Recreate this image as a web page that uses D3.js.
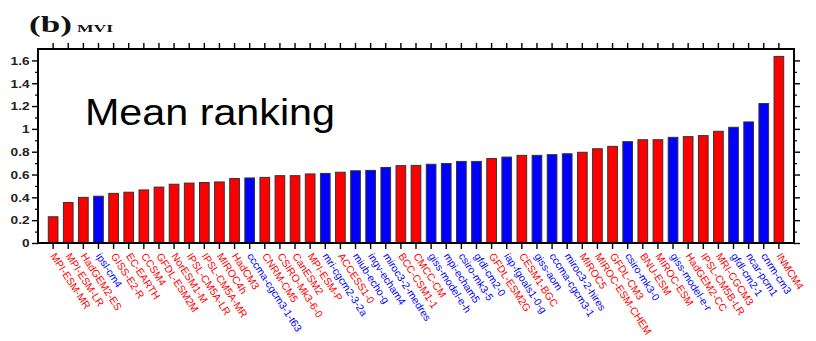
<!DOCTYPE html>
<html>
<head>
<meta charset="utf-8">
<script src="https://cdn.jsdelivr.net/npm/d3@7"></script>
<style>
  html, body { margin: 0; padding: 0; background: #fff; }
  svg { display: block; }
</style>
</head>
<body>
<svg id="chart" width="816" height="341"></svg>
<script>
// Models sorted by mean ranking of the MVI metric
const models = [
  "MPI-ESM-MR", "MPI-ESM-LR", "HadGEM2-ES", "ipsl-cm4", "GISS-E2-R", "EC-EARTH",
  "CCSM4", "GFDL-ESM2M", "NorESM1-M", "IPSL-CM5A-LR", "IPSL-CM5A-MR", "MIROC4h",
  "HadCM3", "cccma-cgcm3-1-t63", "CNRM-CM5", "CSIRO-Mk3-6-0", "CanESM2", "MPI-ESM-P",
  "mri-cgcm2-3-2a", "ACCESS1-0", "miub-echo-g", "ingv-echam4", "miroc3-2-medres",
  "BCC-CSM1-1", "CMCC-CM", "giss-model-e-h", "mpi-echam5", "csiro-mk3-5", "gfdl-cm2-0",
  "GFDL-ESM2G", "iap-fgoals1-0-g", "CESM1-BGC", "giss-aom", "cccma-cgcm3-1",
  "miroc3-2-hires", "MIROC5", "MIROC-ESM-CHEM", "GFDL-CM3", "csiro-mk3-0", "BNU-ESM",
  "MIROC-ESM", "giss-model-e-r", "HadGEM2-CC", "IPSL-CM5B-LR", "MRI-CGCM3",
  "gfdl-cm2-1", "ncar-pcm1", "cnrm-cm3", "INMCM4"
];

const mvi = [
  0.23, 0.355, 0.40, 0.41, 0.435, 0.445,
  0.465, 0.49, 0.515, 0.525, 0.53, 0.535,
  0.565, 0.57, 0.575, 0.59, 0.59, 0.605,
  0.61, 0.62, 0.633, 0.636, 0.662,
  0.678, 0.68, 0.69, 0.697, 0.715, 0.715,
  0.74, 0.753, 0.768, 0.768, 0.774,
  0.782, 0.795, 0.826, 0.847, 0.888, 0.905,
  0.905, 0.926, 0.932, 0.941, 0.979,
  1.014, 1.061, 1.222, 1.635
];

// Model generation (CMIP5 upper-case names, CMIP3 lower-case names)
const generation = [
  "CMIP5", "CMIP5", "CMIP5", "CMIP3", "CMIP5", "CMIP5",
  "CMIP5", "CMIP5", "CMIP5", "CMIP5", "CMIP5", "CMIP5",
  "CMIP5", "CMIP3", "CMIP5", "CMIP5", "CMIP5", "CMIP5",
  "CMIP3", "CMIP5", "CMIP3", "CMIP3", "CMIP3",
  "CMIP5", "CMIP5", "CMIP3", "CMIP3", "CMIP3", "CMIP3",
  "CMIP5", "CMIP3", "CMIP5", "CMIP3", "CMIP3",
  "CMIP3", "CMIP5", "CMIP5", "CMIP5", "CMIP3", "CMIP5",
  "CMIP5", "CMIP3", "CMIP5", "CMIP5", "CMIP5",
  "CMIP3", "CMIP3", "CMIP3", "CMIP5"
];

const yTicks = [0, 0.2, 0.4, 0.6, 0.8, 1, 1.2, 1.4, 1.6];
const yMinorTicks = [0.1, 0.3, 0.5, 0.7, 0.9, 1.1, 1.3, 1.5];
const yMax = 1.7;

const panelLetter = "(b)";
const metricName = "MVI";
const overlayText = "Mean ranking";

const colorOf = { CMIP5: "#ff0000", CMIP3: "#0000ff" };

const rows = models.map((m, i) => ({ model: m, value: mvi[i], gen: generation[i] }));

const svg = d3.select("#chart");
const plotLeft = 38, plotRight = 794, plotTop = 49, plotBottom = 243;
const stretch = 1.3; // horizontal widening of the axis numerals

const x = d3.scaleBand()
  .domain(models)
  .range([plotLeft, plotRight])
  .paddingInner(0.36)
  .paddingOuter(0.68);

const y = d3.scaleLinear().domain([0, yMax]).range([plotBottom, plotTop]);

// bars
svg.append("g")
  .selectAll("rect")
  .data(rows)
  .join("rect")
  .attr("x", d => x(d.model))
  .attr("y", d => y(d.value))
  .attr("width", x.bandwidth())
  .attr("height", d => y(0) - y(d.value))
  .attr("fill", d => colorOf[d.gen])
  .attr("stroke", "#333")
  .attr("stroke-width", 1);

// left axis: major ticks with labels
const yAxis = svg.append("g")
  .attr("transform", `translate(${plotLeft},0)`)
  .call(d3.axisLeft(y).tickValues(yTicks).tickSize(6).tickSizeOuter(0)
    .tickFormat(d => String(+d.toFixed(1))));
yAxis.select(".domain").remove();
yAxis.selectAll("line").attr("stroke", "#000").attr("stroke-width", 1.4);
yAxis.selectAll("text")
  .attr("font-family", "Liberation Sans, Arial, sans-serif")
  .attr("font-size", 10.5)
  .attr("font-weight", "bold")
  .attr("fill", "#222")
  .attr("x", -8.5 / stretch)
  .attr("dy", "0.36em")
  .attr("transform", `scale(${stretch},1)`);

// left minor ticks
const yAxisMinor = svg.append("g")
  .attr("transform", `translate(${plotLeft},0)`)
  .call(d3.axisLeft(y).tickValues(yMinorTicks).tickSize(3).tickSizeOuter(0).tickFormat(""));
yAxisMinor.select(".domain").remove();
yAxisMinor.selectAll("line").attr("stroke", "#000").attr("stroke-width", 1.2);

// right axis (ticks only)
const yAxisR = svg.append("g")
  .attr("transform", `translate(${plotRight},0)`)
  .call(d3.axisRight(y).tickValues(yTicks).tickSize(6).tickSizeOuter(0).tickFormat(""));
yAxisR.select(".domain").remove();
yAxisR.selectAll("line").attr("stroke", "#000").attr("stroke-width", 1.4);
const yAxisRMinor = svg.append("g")
  .attr("transform", `translate(${plotRight},0)`)
  .call(d3.axisRight(y).tickValues(yMinorTicks).tickSize(3).tickSizeOuter(0).tickFormat(""));
yAxisRMinor.select(".domain").remove();
yAxisRMinor.selectAll("line").attr("stroke", "#000").attr("stroke-width", 1.2);

// top axis: ticks at each model
const xTop = svg.append("g")
  .attr("transform", `translate(0,${plotTop})`)
  .call(d3.axisTop(x).tickSize(6).tickSizeOuter(0).tickFormat(""));
xTop.select(".domain").remove();
xTop.selectAll("line").attr("stroke", "#000").attr("stroke-width", 1.4);

// bottom axis: ticks and rotated model names
const xBot = svg.append("g")
  .attr("transform", `translate(0,${plotBottom})`)
  .call(d3.axisBottom(x).tickSize(6).tickSizeOuter(0));
xBot.select(".domain").remove();
xBot.selectAll("line").attr("stroke", "#000").attr("stroke-width", 1.4);
xBot.selectAll("text")
  .attr("font-family", "Liberation Sans, Arial, sans-serif")
  .attr("font-size", 10.4)
  .attr("fill", (d, i) => colorOf[generation[i]])
  .attr("text-anchor", "start")
  .attr("dy", null)
  .attr("y", 0)
  .attr("transform", "translate(-3,13) rotate(57)");

// plot frame
svg.append("rect")
  .attr("x", plotLeft).attr("y", plotTop)
  .attr("width", plotRight - plotLeft).attr("height", plotBottom - plotTop)
  .attr("fill", "none")
  .attr("stroke", "#000")
  .attr("stroke-width", 2);

// panel title
svg.append("text")
  .attr("x", 29).attr("y", 32)
  .attr("font-family", "Liberation Serif, Times New Roman, serif")
  .attr("font-weight", "bold")
  .attr("font-size", 24)
  .attr("fill", "#111")
  .attr("textLength", 43)
  .attr("lengthAdjust", "spacingAndGlyphs")
  .text(panelLetter);
svg.append("text")
  .attr("x", 77).attr("y", 32)
  .attr("font-family", "Liberation Serif, Times New Roman, serif")
  .attr("font-weight", "bold")
  .attr("font-size", 11)
  .attr("fill", "#111")
  .attr("textLength", 36)
  .attr("lengthAdjust", "spacingAndGlyphs")
  .text(metricName);

// overlay caption
svg.append("text")
  .attr("x", 85).attr("y", 125)
  .attr("font-family", "Liberation Sans, Arial, sans-serif")
  .attr("font-size", 36)
  .attr("fill", "#000")
  .attr("textLength", 250)
  .attr("lengthAdjust", "spacingAndGlyphs")
  .text(overlayText);
</script>
</body>
</html>
